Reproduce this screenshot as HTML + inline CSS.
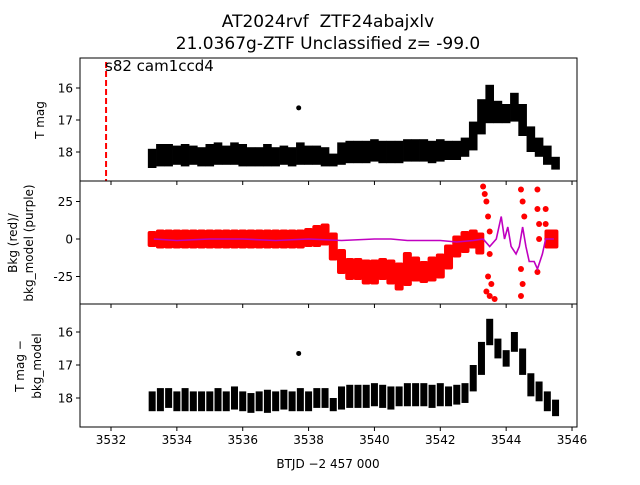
<!DOCTYPE html>
<html><head><meta charset="utf-8"><style>
body{margin:0;background:#fff;font-family:"Liberation Sans","DejaVu Sans",sans-serif;}
svg text{font-family:"DejaVu Sans","Liberation Sans",sans-serif;}
</style></head><body>
<svg id="c" width="640" height="480" xmlns="http://www.w3.org/2000/svg">
<text x="328" y="27" font-size="17" text-anchor="middle" xml:space="preserve">AT2024rvf  ZTF24abajxlv</text>
<text x="328" y="49" font-size="17" text-anchor="middle">21.0367g-ZTF Unclassified z= -99.0</text>
<text x="328" y="468" font-size="12" text-anchor="middle">BTJD −2 457 000</text>
<text transform="translate(44,120) rotate(-90)" font-size="12" text-anchor="middle">T mag</text>
<text transform="translate(17,243) rotate(-90)" font-size="12" text-anchor="middle">Bkg (red)/</text>
<text transform="translate(33,243) rotate(-90)" font-size="12" text-anchor="middle">bkg_model (purple)</text>
<text transform="translate(24,366) rotate(-90)" font-size="12" text-anchor="middle">T mag −</text>
<text transform="translate(41,366) rotate(-90)" font-size="12" text-anchor="middle">bkg_model</text>
<g id="g"></g>
</svg>
<script>
const times=[3533.25,3533.5,3533.75,3534,3534.25,3534.5,3534.75,3535,3535.25,3535.5,3535.75,3536,3536.25,3536.5,3536.75,3537,3537.25,3537.5,3537.75,3538,3538.25,3538.5,3538.75,3539,3539.25,3539.5,3539.75,3540,3540.25,3540.5,3540.75,3541,3541.25,3541.5,3541.75,3542,3542.25,3542.5,3542.75,3543,3543.25,3543.5,3543.75,3544,3544.25,3544.5,3544.75,3545,3545.25,3545.5];
const mag1=[18.2,18.1,18.1,18.1,18.1,18.1,18.15,18.1,18.05,18.1,18.05,18.1,18.15,18.15,18.1,18.15,18.1,18.15,18.05,18.1,18.1,18.15,18.25,18.05,18.0,18.0,18.0,17.95,18.0,18.0,18.0,17.95,17.95,17.95,18.0,17.95,17.95,17.95,17.85,17.5,16.9,16.5,16.75,16.8,16.6,17.0,17.6,17.85,18.1,18.35];
const err1=[0.3,0.35,0.35,0.3,0.35,0.3,0.3,0.35,0.35,0.3,0.35,0.35,0.3,0.3,0.35,0.3,0.3,0.3,0.35,0.3,0.3,0.3,0.2,0.35,0.35,0.35,0.35,0.35,0.35,0.35,0.35,0.35,0.35,0.35,0.35,0.35,0.3,0.3,0.3,0.45,0.55,0.6,0.35,0.3,0.45,0.5,0.4,0.3,0.3,0.2];
const mag3=[18.1,18.05,18.0,18.1,18.05,18.1,18.1,18.1,18.05,18.1,18.0,18.1,18.15,18.1,18.1,18.1,18.05,18.1,18.05,18.1,18.0,18.0,18.2,18.0,17.95,17.95,17.95,17.9,17.95,18.0,17.95,17.9,17.9,17.9,17.95,17.9,17.95,17.9,17.85,17.4,16.8,16.0,16.5,16.8,16.3,16.9,17.6,17.8,18.1,18.3];
const err3=[0.3,0.35,0.3,0.3,0.35,0.3,0.3,0.3,0.35,0.3,0.35,0.3,0.3,0.3,0.35,0.3,0.3,0.3,0.35,0.3,0.3,0.3,0.2,0.35,0.35,0.35,0.35,0.35,0.35,0.35,0.3,0.35,0.35,0.35,0.35,0.35,0.3,0.3,0.3,0.4,0.5,0.4,0.3,0.25,0.3,0.4,0.35,0.3,0.3,0.25];
const bkgT=[3533.25,3533.5,3533.75,3534,3534.25,3534.5,3534.75,3535,3535.25,3535.5,3535.75,3536,3536.25,3536.5,3536.75,3537,3537.25,3537.5,3537.75,3538,3538.25,3538.5,3538.75,3539,3539.25,3539.5,3539.75,3540,3540.25,3540.5,3540.75,3541,3541.25,3541.5,3541.75,3542,3542.25,3542.5,3542.75,3543,3543.2,3545.3,3545.45];
const bkgV=[0,0,0,0,0,0,0,0,0,0,0,0,0,0,0,0,0,0,0,1,2,3,-5,-15,-20,-20,-22,-22,-20,-22,-25,-20,-20,-22,-20,-18,-12,-5,-2,0,-3,0,0];
const bkgS=[4,5,5,5,5,5,5,5,5,5,5,5,5,5,5,5,5,5,5,5,6,6,8,7,6,6,7,7,6,7,8,10,7,6,7,7,7,6,6,5,6,5,5];
const outT=[3543.3,3543.35,3543.4,3543.45,3543.5,3543.5,3543.45,3543.4,3543.5,3543.65,3543.55,3544.45,3544.5,3544.55,3544.45,3544.5,3544.45,3544.95,3544.95,3545.0,3545.0,3544.95,3545.2,3545.2,3545.25];
const outV=[35,30,25,15,5,-10,-25,-35,-38,-40,-30,33,25,15,-20,-30,-38,33,20,10,0,-22,20,10,0];
const modT=[3533.3,3534,3535,3536,3537,3538,3539,3540,3540.5,3541,3542,3542.5,3543,3543.3,3543.5,3543.7,3543.85,3543.95,3544.05,3544.15,3544.3,3544.4,3544.5,3544.6,3544.7,3544.85,3544.95,3545.1,3545.2,3545.45];
const modV=[0,-1,0,0,-1,0,-1,0,0,-1,-1,-2,-1,0,-5,0,15,0,8,-5,-10,-5,8,-5,-15,-15,-20,-10,0,0];
const xTicks=[3532,3534,3536,3538,3540,3542,3544,3546];
const y1Ticks=[16,17,18], y2Ticks=[25,0,-25], y3Ticks=[16,17,18];

const NS='http://www.w3.org/2000/svg', g=document.getElementById('g');
const X=t=>111+(t-3532)*32.93;
const Y1=m=>88+(m-16)*32, Y2=v=>239-v*1.5, Y3=m=>332+(m-16)*33;
function el(tag,a,parent){const e=document.createElementNS(NS,tag);for(const k in a)e.setAttribute(k,a[k]);(parent||g).appendChild(e);return e;}

const p1=el('g',{});


times.forEach((t,i)=>{const r=el('rect',{x:X(t)-4.3,y:Y1(mag1[i]-err1[i]),width:8.6,height:Y1(mag1[i]+err1[i])-Y1(mag1[i]-err1[i]),fill:'#000'},p1);

});
const d1=el('circle',{cx:X(3537.7),cy:Y1(16.62),r:2.5,fill:'#000'});


const vl=el('line',{x1:X(3531.85),x2:X(3531.85),y1:62,y2:181,stroke:'red','stroke-width':2,'stroke-dasharray':'6,3'});


const st=el('text',{x:105,y:71,'font-size':15});st.textContent='s82 cam1ccd4';



const p2=el('g',{});


bkgT.forEach((t,i)=>{const r=el('rect',{x:X(t)-4.5,y:Y2(bkgV[i]+bkgS[i])-2,width:9,height:Y2(bkgV[i]-bkgS[i])-Y2(bkgV[i]+bkgS[i])+4,rx:2,fill:'red'},p2);

});
outT.forEach((t,i)=>{const c=el('circle',{cx:X(t),cy:Y2(outV[i]),r:3,fill:'red'},p2);

});
const pl=el('polyline',{points:modT.map((t,i)=>X(t)+','+Y2(modV[i])).join(' '),fill:'none',stroke:'#c000c0','stroke-width':1.6});



const p3=el('g',{});


times.forEach((t,i)=>{const r=el('rect',{x:X(t)-3.5,y:Y3(mag3[i]-err3[i]),width:7,height:Y3(mag3[i]+err3[i])-Y3(mag3[i]-err3[i]),fill:'#000'},p3);

});
const d3=el('circle',{cx:X(3537.7),cy:Y3(16.65),r:2.5,fill:'#000'});



[[58,181],[181,304],[304,427]].forEach((p,k)=>{const r=el('rect',{x:80,y:p[0],width:497,height:p[1]-p[0],fill:'none',stroke:'#000','stroke-width':1});


xTicks.forEach(t=>{el('line',{x1:X(t),x2:X(t),y1:p[1],y2:p[1]+4,stroke:'#000'});});});
xTicks.forEach(t=>{const tx=el('text',{x:X(t),y:444,'font-size':12,'text-anchor':'middle'});tx.textContent=t;

});
function yt(ticks,F){ticks.forEach(v=>{el('line',{x1:76,x2:80,y1:F(v),y2:F(v),stroke:'#000'});const tx=el('text',{x:73,y:F(v)+4.5,'font-size':12,'text-anchor':'end'});tx.textContent=v;

});}
yt(y1Ticks,Y1);yt(y2Ticks,Y2);yt(y3Ticks,Y3);
</script>
</body></html>
